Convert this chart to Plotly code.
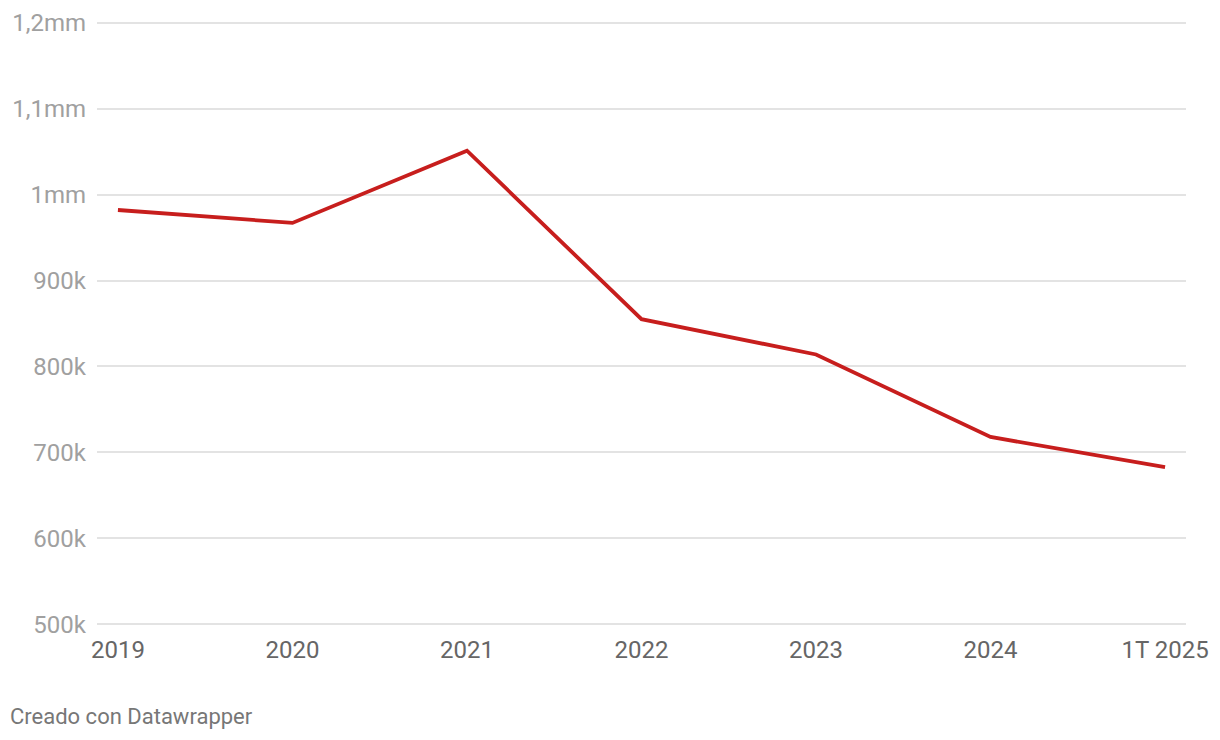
import plotly.graph_objects as go

categories = ["2019", "2020", "2021", "2022", "2023", "2024", "1T 2025"]
values = [982000, 967000, 1051000, 855000, 814000, 718000, 683000]
y_tick_vals = [500000, 600000, 700000, 800000, 900000, 1000000, 1100000, 1200000]
y_tick_text = ["500k", "600k", "700k", "800k", "900k", "1mm", "1,1mm", "1,2mm"]

# page has an 8px body margin; margins are set so the plot lands where the reference has it
L, R, T, B = 89, 42, 12.42, 121.42
W, H = 1220, 740
pw, ph = W - L - R, H - T - B

fig = go.Figure()
fig.add_trace(go.Scatter(
    x=categories, y=values, mode="lines",
    line=dict(color="#c71e1d", width=3.8),
    hoverinfo="skip",
))

fig.update_layout(
    width=W, height=H,
    margin=dict(l=L, r=R, t=T, b=B, autoexpand=False),
    paper_bgcolor="white", plot_bgcolor="white",
    showlegend=False,
    font=dict(family="Roboto", size=24),
    xaxis=dict(
        type="category", range=[-0.12, 6.12], automargin=False,
        showgrid=False, zeroline=False, showline=False,
        tickfont=dict(family="Roboto", size=24, color="#666666"),
        ticks="", ticklabelstandoff=6,
    ),
    yaxis=dict(
        range=[497000, 1203000], automargin=False,
        tickvals=y_tick_vals, ticktext=y_tick_text,
        showgrid=True, gridcolor="#e3e3e3", gridwidth=1.5,
        zeroline=False, showline=False, ticks="",
        tickfont=dict(family="Roboto", size=24, color="#a0a0a0"),
        ticklabelstandoff=10,
    ),
    annotations=[dict(
        text="Creado con Datawrapper",
        x=(0 - L) / pw, y=(H - B - 708) / ph,
        xref="paper", yref="paper",
        showarrow=False, xanchor="left", yanchor="middle",
        font=dict(family="Roboto", size=22, color="#777777"),
    )],
)

fig.write_html("out.html")
